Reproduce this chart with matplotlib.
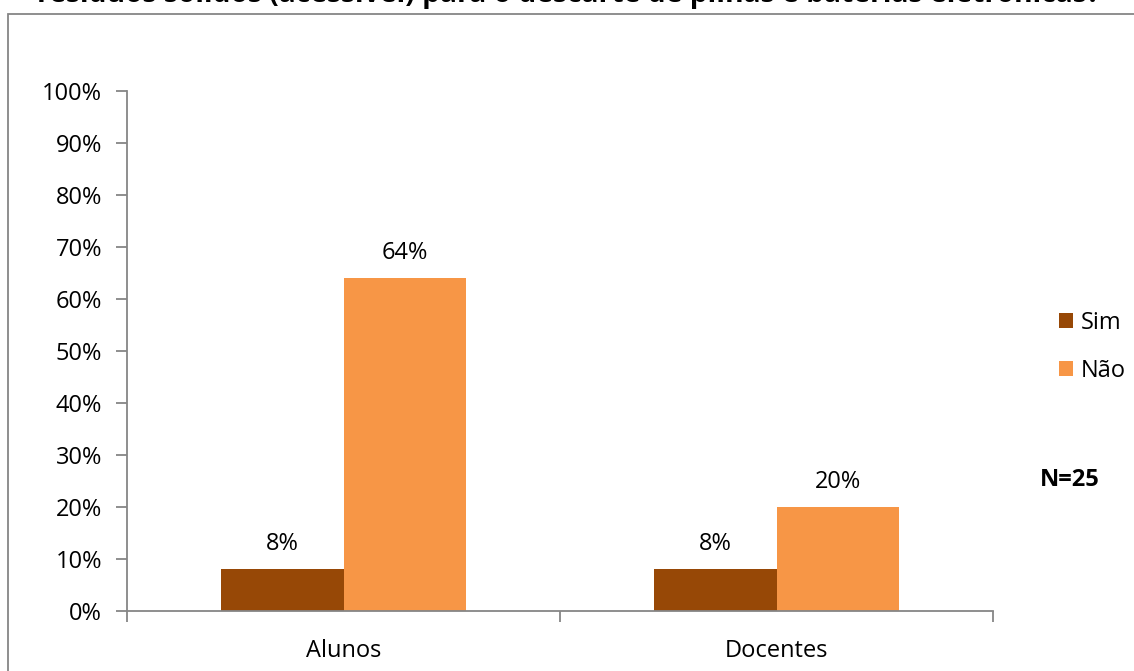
import matplotlib
matplotlib.use("Agg")
import matplotlib.pyplot as plt
import numpy as np
from matplotlib.patches import Rectangle

plt.rcParams['font.family'] = ['Open Sans', 'DejaVu Sans']

categories = ["Alunos", "Docentes"]
series_names = ["Sim", "Não"]
sim_values = [8, 8]
nao_values = [64, 20]
y_ticks = [0, 10, 20, 30, 40, 50, 60, 70, 80, 90, 100]
title_text = "resíduos sólidos (acessível) para o descarte de pilhas e baterias eletrônicas?"
note_text = "N=25"

colors = ["#974806", "#F79646"]
axis_grey = "#868686"
fs = 17

W, H = 1134, 671
fig = plt.figure(figsize=(W / 100, H / 100), dpi=100)

# outer chart frame
fig.patches.append(Rectangle((8 / W, -0.1), 1.2, (H - 14) / H + 0.1,
                             transform=fig.transFigure, fill=False,
                             edgecolor=axis_grey, linewidth=1.3))

ax = fig.add_axes([127 / W, (H - 611) / H, (993 - 127) / W, (611 - 91) / H])

x = np.arange(len(categories))
bw = 0.284
bars_sim = ax.bar(x - bw / 2, sim_values, width=bw, color=colors[0], label=series_names[0])
bars_nao = ax.bar(x + bw / 2, nao_values, width=bw, color=colors[1], label=series_names[1])

for bars, vals in ((bars_sim, sim_values), (bars_nao, nao_values)):
    for b, v in zip(bars, vals):
        ax.text(b.get_x() + b.get_width() / 2, v + 4.9, f"{v}%",
                ha="center", va="center", fontsize=fs, color="#000000")

ax.set_xlim(-0.5, len(categories) - 0.5)
ax.set_ylim(0, 100)
ax.set_yticks(y_ticks)
ax.set_yticklabels([f"{t}%" for t in y_ticks], fontsize=fs)

ax.set_xticks(x)
ax.set_xticklabels(categories, fontsize=fs)
ax.tick_params(axis="x", length=0, pad=20)
ax.set_xticks(np.arange(len(categories) + 1) - 0.5, minor=True)
ax.tick_params(axis="x", which="minor", length=8, color=axis_grey, width=1.3)
ax.tick_params(axis="y", length=8, color=axis_grey, width=1.3, pad=10)

for s in ("top", "right"):
    ax.spines[s].set_visible(False)
for s in ("left", "bottom"):
    ax.spines[s].set_color(axis_grey)
    ax.spines[s].set_linewidth(1.3)

leg = fig.legend(handles=[bars_sim, bars_nao], labels=series_names,
                 loc="center left", bbox_to_anchor=(1038 / W, (H - 347) / H),
                 frameon=False, fontsize=fs, handlelength=0.6, handleheight=0.6,
                 handletextpad=0.3, labelspacing=1.0)

fig.text(1070 / W, (H - 480) / H, note_text, ha="center", va="center",
         fontsize=fs, fontweight="bold")

fig.text(569 / W, (H - 2) / H, title_text, ha="center", va="baseline",
         fontsize=20.3, fontweight="bold")

fig.savefig("out.png", dpi=100, facecolor="white")
